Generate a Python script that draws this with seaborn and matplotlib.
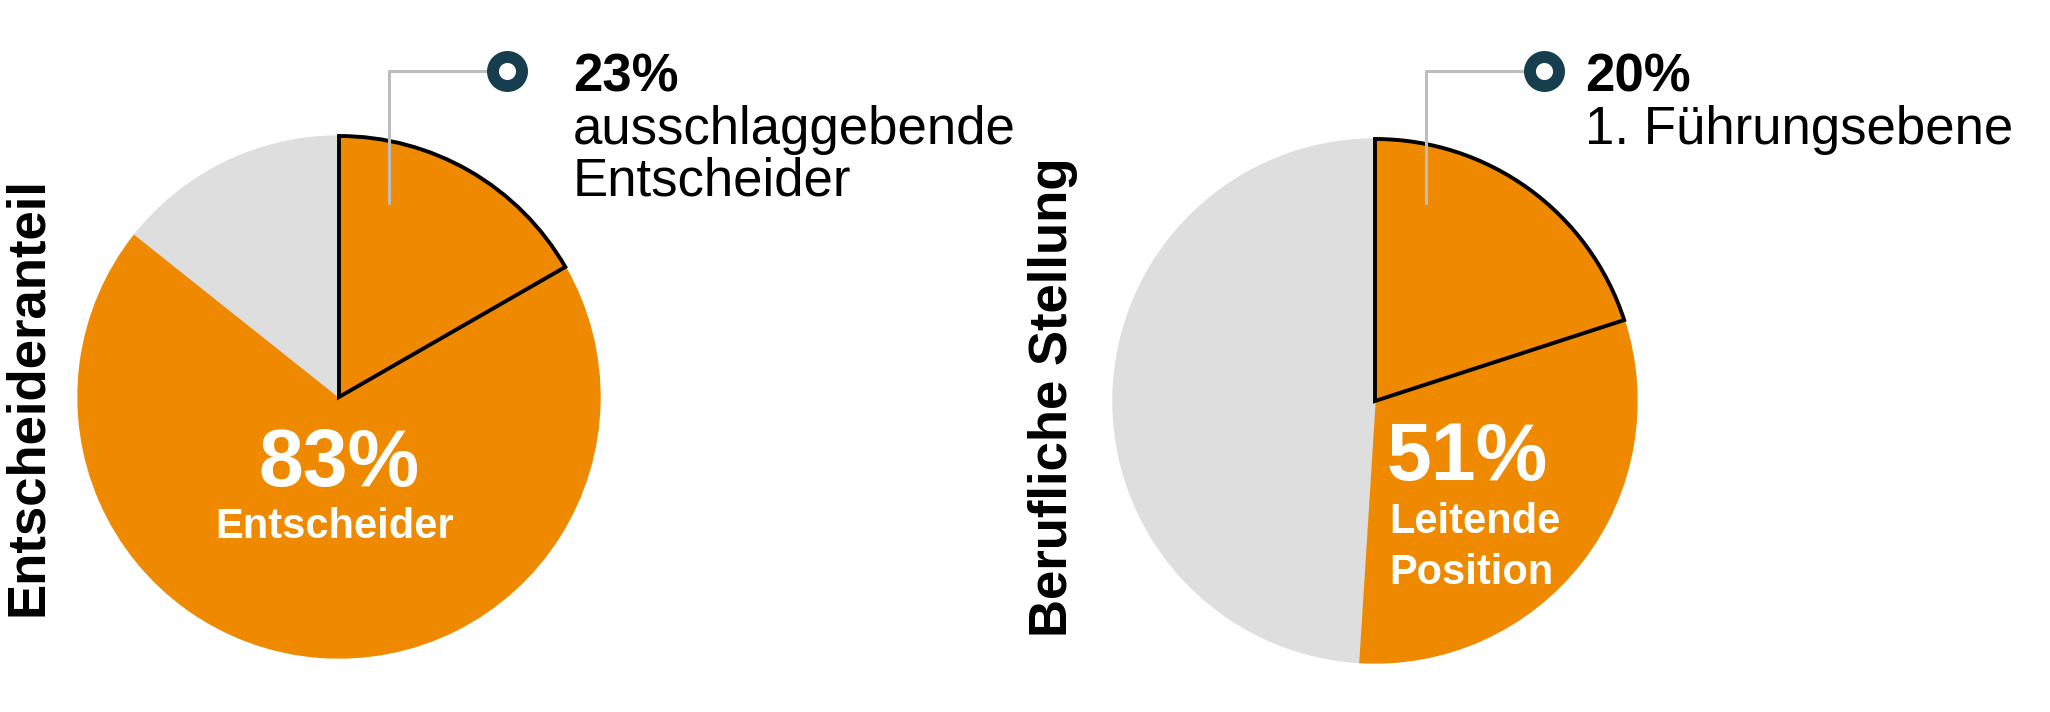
import matplotlib.pyplot as plt
import seaborn as sns

# wedge shares as drawn (highlighted slice, rest of the orange part, grey rest)
left_sizes = [16.7, 69.0, 14.3]
right_sizes = [20.0, 31.0, 49.0]

side_titles = ["Entscheideranteil", "Berufliche Stellung"]
main_values = ["83%", "51%"]
main_labels = [["Entscheider"], ["Leitende", "Position"]]
callout_values = ["23%", "20%"]
callout_labels = [["ausschlaggebende", "Entscheider"], ["1. Führungsebene"]]

ORANGE = "#EF8A00"
GREY = "#DEDEDE"
DARK = "#173E4F"
LEADER = "#BDBDBD"

sns.set_theme(style="white")
plt.rcParams["font.family"] = ["Liberation Sans", "DejaVu Sans"]
plt.rcParams["text.color"] = "black"

W, H = 2050, 712
fig = plt.figure(figsize=(W / 100, H / 100), dpi=100)


def pie_axes(cx, cy, r):
    return fig.add_axes([(cx - r) / W, 1 - (cy + r) / H, 2 * r / W, 2 * r / H])


def draw_pie(ax, sizes):
    wedges, _ = ax.pie(
        sizes,
        colors=[ORANGE, ORANGE, GREY],
        startangle=90,
        counterclock=False,
        radius=1,
        wedgeprops=dict(linewidth=1),
    )
    for w in wedges:
        w.set_edgecolor(w.get_facecolor())
    wedges[0].set_edgecolor("black")
    wedges[0].set_linewidth(2.8)
    wedges[0].set_zorder(3)
    ax.set_xlim(-1, 1)
    ax.set_ylim(-1, 1)
    ax.set_aspect("equal")
    ax.axis("off")


def draw_callout(ax, start, marker, value, lines, text_x, r):
    ax.plot(
        [start[0], start[0], marker[0] - 0.06],
        [start[1], marker[1], marker[1]],
        color=LEADER, lw=2.2, clip_on=False, zorder=4,
    )
    ax.plot(
        marker[0], marker[1], "o",
        ms=20.9, mew=8.6, mfc="white", mec=DARK,
        clip_on=False, zorder=5,
    )
    ax.text(text_x, marker[1] - 21 / r, value, fontsize=38, fontweight="bold",
            ha="left", va="baseline")
    for i, line in enumerate(lines):
        ax.text(text_x, marker[1] - (73 + 52 * i) / r, line, fontsize=38,
                ha="left", va="baseline")


# left pie
r1 = 261
ax1 = pie_axes(339, 397, r1)
draw_pie(ax1, left_sizes)
draw_callout(ax1, (50 / r1, 194 / r1), (168 / r1, 326 / r1),
             callout_values[0], callout_labels[0], 234 / r1, r1)
ax1.text(0, -89 / r1, main_values[0], fontsize=58, fontweight="bold",
         color="white", ha="center", va="baseline")
ax1.text(-4 / r1, -141 / r1, main_labels[0][0], fontsize=30, fontweight="bold",
         color="white", ha="center", va="baseline")

# right pie
r2 = 262
ax2 = pie_axes(1375, 401, r2)
draw_pie(ax2, right_sizes)
draw_callout(ax2, (51 / r2, 198 / r2), (169 / r2, 330 / r2),
             callout_values[1], callout_labels[1], 210 / r2, r2)
ax2.text(12 / r2, -79 / r2, main_values[1], fontsize=58, fontweight="bold",
         color="white", ha="left", va="baseline")
for i, line in enumerate(main_labels[1]):
    ax2.text(14 / r2, -(132 + 51 * i) / r2, line, fontsize=30, fontweight="bold",
             color="white", ha="left", va="baseline")

# side titles
fig.text(28 / W, 1 - 396 / H, side_titles[0], rotation=90, fontsize=38,
         fontweight="bold", ha="center", va="center")
fig.text(1053 / W, 1 - 397 / H, side_titles[1], rotation=90, fontsize=38,
         fontweight="bold", ha="center", va="center")

fig.savefig("out.png", dpi=100, facecolor="white")
